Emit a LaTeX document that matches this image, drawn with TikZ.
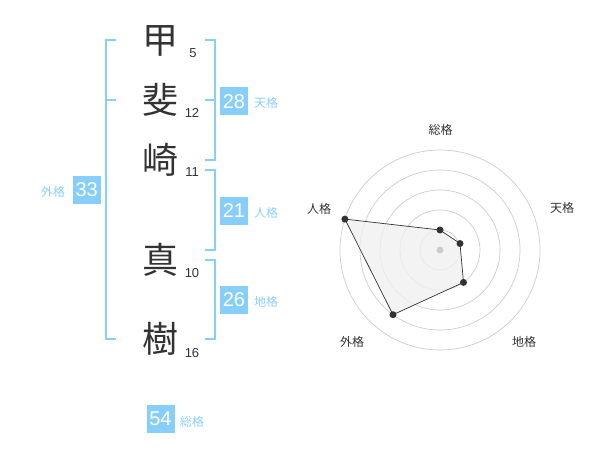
\documentclass[tikz,border=0pt]{standalone}
\usepackage{fontspec}
\setmainfont{Liberation Sans}
\newfontfamily\cjk{Noto Sans CJK JP}
\definecolor{sky}{RGB}{135,206,250}
\definecolor{lbltxt}{RGB}{140,208,248}
\definecolor{ink}{RGB}{51,51,51}
\definecolor{ring}{RGB}{204,204,204}
\definecolor{area}{RGB}{240,240,240}
\begin{document}
\begin{tikzpicture}[x=1pt,y=-1pt,
  kanji/.style={font=\cjk\fontsize{36}{36}\selectfont, text=ink, inner sep=0},
  strk/.style={font=\fontsize{13}{13}\selectfont, text=ink, inner sep=0},
  numbox/.style={fill=sky, text=white, minimum size=28, inner sep=0, font=\fontsize{20}{20}\selectfont},
  lbl/.style={text=lbltxt, font=\cjk\fontsize{12}{12}\selectfont, inner sep=0},
  rlbl/.style={text=ink, font=\cjk\fontsize{12}{12}\selectfont, inner sep=0},
  bracket/.style={draw=sky, line width=2},
  ringline/.style={draw=ring, line width=0.7},
  dot/.style={circle, fill=ink, minimum size=7, inner sep=0},
]
\useasboundingbox (0,0) rectangle (600,470);

% kanji
\node[kanji] (k1) at (160,41) {甲};
\node[kanji] (k2) at (160,100) {斐};
\node[kanji] (k3) at (160,160) {崎};
\node[kanji] (k4) at (160,260) {真};
\node[kanji] (k5) at (160,339) {樹};

% stroke counts
\node[strk] (s1) at (193,53) {5};
\node[strk] (s2) at (192,113) {12};
\node[strk] (s3) at (192,172) {11};
\node[strk] (s4) at (192,273) {10};
\node[strk] (s5) at (192,353) {16};

% brackets
\draw[bracket] (116,40) -- (105.7,40) -- (105.7,339) -- (116,339);
\draw[bracket] (105.7,100) -- (116,100);
\draw[bracket] (205,40) -- (215,40) -- (215,160) -- (205,160);
\draw[bracket] (215,100) -- (205,100);
\draw[bracket] (205,170) -- (215,170) -- (215,250) -- (205,250);
\draw[bracket] (205,260) -- (215,260) -- (215,339) -- (205,339);

% boxes and labels
\node[numbox] (b28) at (234,101.5) {28};
\node[lbl] (l28) at (266,103) {天格};
\node[numbox] (b21) at (234,211) {21};
\node[lbl] (l21) at (266,213) {人格};
\node[numbox] (b26) at (234,300) {26};
\node[lbl] (l26) at (266,302) {地格};
\node[numbox] (b33) at (86.7,190) {33};
\node[lbl] (l33) at (53,192) {外格};
\node[numbox] (b54) at (160.5,419) {54};
\node[lbl] (l54) at (192,422) {総格};

% radar
\coordinate (c) at (440,250);
\foreach \r in {20,40,60,80,100} \draw[ringline] (c) circle[radius=\r];
\coordinate (p1) at (440,230);
\coordinate (p2) at (460,243.5);
\coordinate (p3) at (463.5,282.4);
\coordinate (p4) at (393,314.7);
\coordinate (p5) at (344.9,219.1);
\draw[fill=area, fill opacity=0.8, draw=ink, line width=0.7] (p1) -- (p2) -- (p3) -- (p4) -- (p5) -- cycle;
\node[circle, fill=ring, minimum size=7, inner sep=0] (cd) at (c) {};
\node[dot] (d1) at (p1) {};
\node[dot] (d2) at (p2) {};
\node[dot] (d3) at (p3) {};
\node[dot] (d4) at (p4) {};
\node[dot] (d5) at (p5) {};

\node[rlbl] (r1) at (440.5,130) {総格};
\node[rlbl] (r2) at (562,208) {天格};
\node[rlbl] (r3) at (524,342) {地格};
\node[rlbl] (r4) at (352,342) {外格};
\node[rlbl] (r5) at (319,209) {人格};
\end{tikzpicture}
\end{document}
